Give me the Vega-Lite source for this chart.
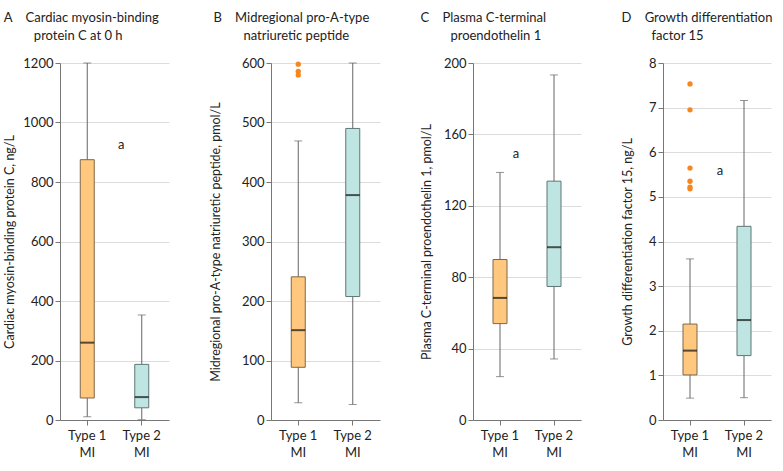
{
  "$schema": "https://vega.github.io/schema/vega-lite/v6.json",
  "padding": {"left": 3, "top": 12, "right": 2, "bottom": 4},
  "background": "white",
  "datasets": {
    "stats": [
      {"panel": "A", "group": "Type 1 MI", "min": 11, "q1": 74, "median": 260, "q3": 875, "max": 1200},
      {"panel": "A", "group": "Type 2 MI", "min": 1, "q1": 41, "median": 77, "q3": 187, "max": 353},
      {"panel": "B", "group": "Type 1 MI", "min": 29, "q1": 88.6, "median": 151, "q3": 240.6, "max": 469},
      {"panel": "B", "group": "Type 2 MI", "min": 26, "q1": 207.5, "median": 378, "q3": 490, "max": 600},
      {"panel": "C", "group": "Type 1 MI", "min": 24.3, "q1": 54, "median": 68.4, "q3": 89.9, "max": 138.7},
      {"panel": "C", "group": "Type 2 MI", "min": 34.2, "q1": 74.8, "median": 96.8, "q3": 133.8, "max": 193.3},
      {"panel": "D", "group": "Type 1 MI", "min": 0.49, "q1": 1.01, "median": 1.555, "q3": 2.15, "max": 3.61},
      {"panel": "D", "group": "Type 2 MI", "min": 0.5, "q1": 1.443, "median": 2.24, "q3": 4.34, "max": 7.16}
    ],
    "outliers": [
      {"panel": "B", "group": "Type 1 MI", "value": 598},
      {"panel": "B", "group": "Type 1 MI", "value": 586},
      {"panel": "B", "group": "Type 1 MI", "value": 580},
      {"panel": "D", "group": "Type 1 MI", "value": 7.53},
      {"panel": "D", "group": "Type 1 MI", "value": 6.95},
      {"panel": "D", "group": "Type 1 MI", "value": 5.645},
      {"panel": "D", "group": "Type 1 MI", "value": 5.35},
      {"panel": "D", "group": "Type 1 MI", "value": 5.22},
      {"panel": "D", "group": "Type 1 MI", "value": 5.18}
    ],
    "notes": [
      {"panel": "A", "group": "Type 1 MI", "value": 925, "label": "a"},
      {"panel": "C", "group": "Type 1 MI", "value": 149, "label": "a"},
      {"panel": "D", "group": "Type 1 MI", "value": 5.59, "label": "a"}
    ]
  },
  "config": {
    "font": "Lato",
    "view": {"stroke": null},
    "axis": {
      "labelFont": "Lato", "titleFont": "Lato", "labelFontSize": 13, "titleFontSize": 12.5,
      "titleFontWeight": "normal", "labelColor": "#222", "titleColor": "#222",
      "domainColor": "#777", "tickColor": "#777", "gridColor": "#dcdcdc"
    },
    "title": {"font": "Lato", "fontSize": 13, "fontWeight": "normal", "color": "#222", "anchor": "start", "frame": "bounds", "lineHeight": 18, "offset": 14}
  },
  "spacing": 40,
  "hconcat": [
    {
      "width": 109, "height": 357,
      "title": {"text": ["A\u00a0\u00a0\u00a0\u00a0Cardiac myosin-binding", "\u2800\u2800\u2800protein C at 0 h"]},
      "data": {"name": "stats"},
      "transform": [{"filter": "datum.panel == 'A'"}],
      "encoding": {"x": {"field": "group", "type": "nominal", "scale": {"paddingInner": 0, "paddingOuter": 0, "domain": ["Type 1 MI", "Type 2 MI"]}, "axis": {"title": null, "labelAngle": 0, "bandPosition": 0.5, "labelExpr": "[slice(datum.label,0,6),'MI']", "labelLineHeight": 17, "labelPadding": 4, "grid": false, "tickSize": 5}}},
      "layer": [
        {"mark": {"type": "rule", "color": "#666", "strokeWidth": 1}, "encoding": {"y": {"field": "min", "type": "quantitative", "scale": {"domain": [0, 1200]}, "axis": {"title": "Cardiac myosin-binding protein C, ng/L", "values": [0, 200, 400, 600, 800, 1000, 1200], "format": "d", "grid": true, "tickSize": 5, "titlePadding": 6}}, "y2": {"field": "max"}}},
        {"mark": {"type": "tick", "color": "#666", "size": 8, "thickness": 1}, "encoding": {"y": {"field": "min", "type": "quantitative"}}},
        {"mark": {"type": "tick", "color": "#666", "size": 8, "thickness": 1}, "encoding": {"y": {"field": "max", "type": "quantitative"}}},
        {"mark": {"type": "bar", "size": 14, "strokeWidth": 1}, "encoding": {"y": {"field": "q1", "type": "quantitative"}, "y2": {"field": "q3"}, "fill": {"field": "group", "type": "nominal", "scale": {"domain": ["Type 1 MI", "Type 2 MI"], "range": ["#FFC87E", "#BEE5E2"]}, "legend": null}, "stroke": {"field": "group", "type": "nominal", "scale": {"domain": ["Type 1 MI", "Type 2 MI"], "range": ["#7d6848", "#5f7675"]}, "legend": null}}},
        {"mark": {"type": "tick", "color": "#111", "size": 14, "thickness": 2}, "encoding": {"y": {"field": "median", "type": "quantitative"}}},
        {"data": {"name": "notes"}, "transform": [{"filter": "datum.panel == 'A'"}], "mark": {"type": "text", "dx": 34, "fontSize": 13, "color": "#222"}, "encoding": {"y": {"field": "value", "type": "quantitative"}, "text": {"field": "label"}}}
      ]
    },
    {
      "width": 109, "height": 357,
      "title": {"text": ["B\u00a0\u00a0\u00a0\u00a0Midregional pro-A-type", "\u2800\u2800\u2800natriuretic peptide"], "dx": 4},
      "data": {"name": "stats"},
      "transform": [{"filter": "datum.panel == 'B'"}],
      "encoding": {"x": {"field": "group", "type": "nominal", "scale": {"paddingInner": 0, "paddingOuter": 0, "domain": ["Type 1 MI", "Type 2 MI"]}, "axis": {"title": null, "labelAngle": 0, "bandPosition": 0.5, "labelExpr": "[slice(datum.label,0,6),'MI']", "labelLineHeight": 17, "labelPadding": 4, "grid": false, "tickSize": 5}}},
      "layer": [
        {"mark": {"type": "rule", "color": "#666", "strokeWidth": 1}, "encoding": {"y": {"field": "min", "type": "quantitative", "scale": {"domain": [0, 600]}, "axis": {"title": "Midregional  pro-A-type natriuretic peptide, pmol/L", "values": [0, 100, 200, 300, 400, 500, 600], "grid": true, "tickSize": 5, "titlePadding": 19}}, "y2": {"field": "max"}}},
        {"mark": {"type": "tick", "color": "#666", "size": 8, "thickness": 1}, "encoding": {"y": {"field": "min", "type": "quantitative"}}},
        {"mark": {"type": "tick", "color": "#666", "size": 8, "thickness": 1}, "encoding": {"y": {"field": "max", "type": "quantitative"}}},
        {"mark": {"type": "bar", "size": 14, "strokeWidth": 1}, "encoding": {"y": {"field": "q1", "type": "quantitative"}, "y2": {"field": "q3"}, "fill": {"field": "group", "type": "nominal", "scale": {"domain": ["Type 1 MI", "Type 2 MI"], "range": ["#FFC87E", "#BEE5E2"]}, "legend": null}, "stroke": {"field": "group", "type": "nominal", "scale": {"domain": ["Type 1 MI", "Type 2 MI"], "range": ["#7d6848", "#5f7675"]}, "legend": null}}},
        {"mark": {"type": "tick", "color": "#111", "size": 14, "thickness": 2}, "encoding": {"y": {"field": "median", "type": "quantitative"}}},
        {"data": {"name": "outliers"}, "transform": [{"filter": "datum.panel == 'B'"}], "mark": {"type": "circle", "color": "#F7861E", "size": 28, "opacity": 1}, "encoding": {"y": {"field": "value", "type": "quantitative"}}}
      ]
    },
    {
      "width": 108, "height": 357,
      "title": {"text": ["C\u00a0\u00a0\u00a0\u00a0Plasma C-terminal", "\u2800\u2800\u2800proendothelin 1"]},
      "data": {"name": "stats"},
      "transform": [{"filter": "datum.panel == 'C'"}],
      "encoding": {"x": {"field": "group", "type": "nominal", "scale": {"paddingInner": 0, "paddingOuter": 0, "domain": ["Type 1 MI", "Type 2 MI"]}, "axis": {"title": null, "labelAngle": 0, "bandPosition": 0.5, "labelExpr": "[slice(datum.label,0,6),'MI']", "labelLineHeight": 17, "labelPadding": 4, "grid": false, "tickSize": 5}}},
      "layer": [
        {"mark": {"type": "rule", "color": "#666", "strokeWidth": 1}, "encoding": {"y": {"field": "min", "type": "quantitative", "scale": {"domain": [0, 200]}, "axis": {"title": "Plasma C-terminal proendothelin 1, pmol/L", "values": [0, 40, 80, 120, 160, 200], "grid": true, "tickSize": 5, "titlePadding": 10}}, "y2": {"field": "max"}}},
        {"mark": {"type": "tick", "color": "#666", "size": 8, "thickness": 1}, "encoding": {"y": {"field": "min", "type": "quantitative"}}},
        {"mark": {"type": "tick", "color": "#666", "size": 8, "thickness": 1}, "encoding": {"y": {"field": "max", "type": "quantitative"}}},
        {"mark": {"type": "bar", "size": 14, "strokeWidth": 1}, "encoding": {"y": {"field": "q1", "type": "quantitative"}, "y2": {"field": "q3"}, "fill": {"field": "group", "type": "nominal", "scale": {"domain": ["Type 1 MI", "Type 2 MI"], "range": ["#FFC87E", "#BEE5E2"]}, "legend": null}, "stroke": {"field": "group", "type": "nominal", "scale": {"domain": ["Type 1 MI", "Type 2 MI"], "range": ["#7d6848", "#5f7675"]}, "legend": null}}},
        {"mark": {"type": "tick", "color": "#111", "size": 14, "thickness": 2}, "encoding": {"y": {"field": "median", "type": "quantitative"}}},
        {"data": {"name": "notes"}, "transform": [{"filter": "datum.panel == 'C'"}], "mark": {"type": "text", "dx": 16, "fontSize": 13, "color": "#222"}, "encoding": {"y": {"field": "value", "type": "quantitative"}, "text": {"field": "label"}}}
      ]
    },
    {
      "width": 108, "height": 357,
      "title": {"text": ["D\u00a0\u00a0\u00a0\u00a0Growth differentiation", "\u2800\u2800\u2800factor 15"]},
      "data": {"name": "stats"},
      "transform": [{"filter": "datum.panel == 'D'"}],
      "encoding": {"x": {"field": "group", "type": "nominal", "scale": {"paddingInner": 0, "paddingOuter": 0, "domain": ["Type 1 MI", "Type 2 MI"]}, "axis": {"title": null, "labelAngle": 0, "bandPosition": 0.5, "labelExpr": "[slice(datum.label,0,6),'MI']", "labelLineHeight": 17, "labelPadding": 4, "grid": false, "tickSize": 5}}},
      "layer": [
        {"mark": {"type": "rule", "color": "#666", "strokeWidth": 1}, "encoding": {"y": {"field": "min", "type": "quantitative", "scale": {"domain": [0, 8]}, "axis": {"title": "Growth differentiation factor 15, ng/L", "values": [0, 1, 2, 3, 4, 5, 6, 7, 8], "grid": true, "tickSize": 5, "titlePadding": 14}}, "y2": {"field": "max"}}},
        {"mark": {"type": "tick", "color": "#666", "size": 8, "thickness": 1}, "encoding": {"y": {"field": "min", "type": "quantitative"}}},
        {"mark": {"type": "tick", "color": "#666", "size": 8, "thickness": 1}, "encoding": {"y": {"field": "max", "type": "quantitative"}}},
        {"mark": {"type": "bar", "size": 14, "strokeWidth": 1}, "encoding": {"y": {"field": "q1", "type": "quantitative"}, "y2": {"field": "q3"}, "fill": {"field": "group", "type": "nominal", "scale": {"domain": ["Type 1 MI", "Type 2 MI"], "range": ["#FFC87E", "#BEE5E2"]}, "legend": null}, "stroke": {"field": "group", "type": "nominal", "scale": {"domain": ["Type 1 MI", "Type 2 MI"], "range": ["#7d6848", "#5f7675"]}, "legend": null}}},
        {"mark": {"type": "tick", "color": "#111", "size": 14, "thickness": 2}, "encoding": {"y": {"field": "median", "type": "quantitative"}}},
        {"data": {"name": "outliers"}, "transform": [{"filter": "datum.panel == 'D'"}], "mark": {"type": "circle", "color": "#F7861E", "size": 28, "opacity": 1}, "encoding": {"y": {"field": "value", "type": "quantitative"}}},
        {"data": {"name": "notes"}, "transform": [{"filter": "datum.panel == 'D'"}], "mark": {"type": "text", "dx": 30, "fontSize": 13, "color": "#222"}, "encoding": {"y": {"field": "value", "type": "quantitative"}, "text": {"field": "label"}}}
      ]
    }
  ]
}
